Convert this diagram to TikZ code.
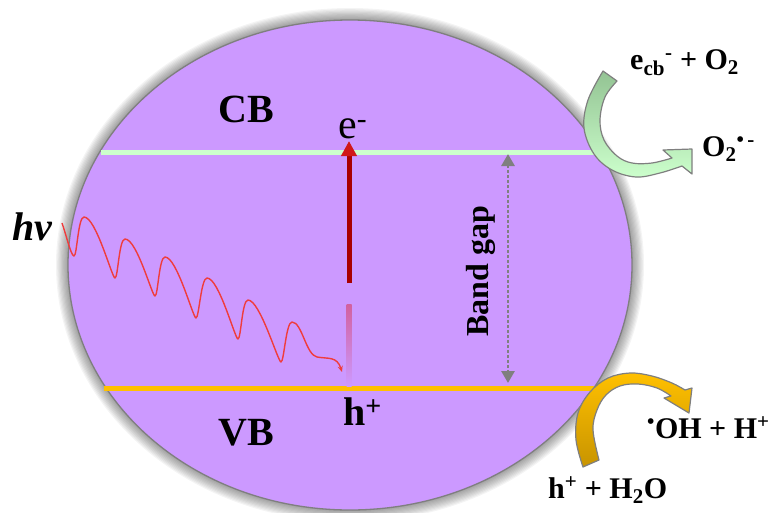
\documentclass[tikz,border=0pt]{standalone}
\usepackage{fontspec}
\setmainfont{Liberation Serif}
\usetikzlibrary{arrows.meta}
\definecolor{bandpurple}{HTML}{CC99FF}
\definecolor{cbgreen}{HTML}{CCFFCC}
\definecolor{vbgold}{HTML}{FFC000}
\definecolor{edgegray}{HTML}{7F7F7F}
\definecolor{darkred}{HTML}{A80000}
\definecolor{headred}{HTML}{D01818}
\definecolor{fadepink}{HTML}{D2609E}
\definecolor{wavered}{HTML}{F03C3C}
\definecolor{arrgreenD}{HTML}{93C393}
\definecolor{arrgreenL}{HTML}{CCFFCC}
\definecolor{arrgoldD}{HTML}{C89400}
\definecolor{arrgoldL}{HTML}{FFC000}
\begin{document}
\begin{tikzpicture}[x=1pt,y=-1pt,
  biglabel/.style={font=\fontsize{40}{40}\selectfont\bfseries, inner sep=0pt, anchor=base west},
  sidelabel/.style={font=\fontsize{30}{30}\selectfont\bfseries, inner sep=0pt, anchor=base west},
  bandline/.style={line width=5pt},
  curvedarrow/.style={draw=edgegray, line width=1.2pt, line join=round}]
\useasboundingbox (0,0) rectangle (774,512);
% soft shadow
\foreach \i in {1,...,10}{
  \fill[black, opacity=0.045] (350,265) ellipse [x radius={282+1.2*\i}, y radius={245+1.2*\i}];
}
% particle
\draw[edgegray, line width=1.3pt, fill=bandpurple] (350,265) ellipse [x radius=282, y radius=245];
% bands
\draw[cbgreen, bandline] (101,152) -- (601,152);
\draw[vbgold, bandline] (104,388) -- (594,388);
% labels
\node[biglabel] (cb) at (218,122) {CB};
\node[biglabel] (vb) at (218,445) {VB};
\node[font=\fontsize{42}{42}\selectfont, inner sep=0pt, anchor=base west] (e) at (338,138) {e\textsuperscript{-}};
\node[biglabel] (h) at (343,425) {h\textsuperscript{+}};
\node[biglabel, font=\fontsize{40}{40}\selectfont\bfseries\itshape] (hv) at (12,240) {hv};
\node[rotate=90, font=\fontsize{32}{32}\selectfont\bfseries, inner sep=0pt] (bg) at (481,271) {Band gap};
% excitation arrow
\coordinate (eb) at (349,283);
\coordinate (et) at (349,141);
\draw[darkred, line width=5pt, -{Triangle[width=15pt,length=15pt,color=headred]}] (eb) -- (et);
\shade[top color=fadepink, bottom color=bandpurple] (346.5,304) rectangle (351.5,386);
% band gap arrow
\coordinate (bgt) at (508,154);
\coordinate (bgb) at (508,383);
\draw[edgegray, line width=2.8pt, dash pattern=on 2.8pt off 2.2pt,
  {Triangle[width=13pt,length=12pt]}-{Triangle[width=13pt,length=12pt]}] (bgt) -- (bgb);
% light wave
\coordinate (w0) at (62,223);
\coordinate (wend) at (342,372);
\draw[wavered, line width=1.4pt, line join=round, -{Stealth[length=6pt,width=5pt]}]
  (w0) .. controls (66,234) and (71,256) .. (74,256)
  .. controls (77,256) and (78,217) .. (84,217)
  .. controls (96,217) and (112,278) .. (115,278)
  .. controls (118,278) and (119,239) .. (125,239)
  .. controls (137,239) and (152,296) .. (155,296)
  .. controls (158,296) and (159,257) .. (165,257)
  .. controls (177,257) and (193,318) .. (196,318)
  .. controls (199,318) and (201,278) .. (207,278)
  .. controls (219,278) and (235,339) .. (238,339)
  .. controls (241,339) and (242,300) .. (248,300)
  .. controls (260,300) and (278,362) .. (281,362)
  .. controls (284,362) and (286,322) .. (292,322)
  .. controls (302,322) and (306,355) .. (317,357)
  .. controls (328,359) and (337,356) .. (wend);
% green curved arrow (CB)
\draw[curvedarrow, top color=arrgreenD, bottom color=arrgreenL]
  (603,71) -- plot[smooth, tension=0.6] coordinates {(603,71) (588,100) (584,128) (594,154) (612,170) (636,177) (660,173) (682,166)}
  -- (692,174) -- (692,149) -- (663,150) -- (672,158)
  -- plot[smooth, tension=0.6] coordinates {(672,158) (652,163) (632,163) (617,156) (604,140) (600,120) (605,97) (617,81)}
  -- cycle;
% gold curved arrow (VB)
\draw[curvedarrow, top color=arrgoldL, bottom color=arrgoldD]
  (583,467) -- plot[smooth, tension=0.6] coordinates {(583,467) (576,440) (578,413) (590,392) (608,378) (630,373) (652,376) (672,383) (685,390)}
  -- (692,388) -- (689,413) -- (664,398) -- (671,396)
  -- plot[smooth, tension=0.6] coordinates {(671,396) (657,388) (638,384) (620,386) (606,395) (597,410) (593,430) (599,460)}
  -- cycle;
% side labels
\node[sidelabel] (ecb) at (630,69) {e\textsubscript{cb}\textsuperscript{-} + O\textsubscript{2}};
\node[sidelabel] (o2) at (702,156) {O\textsubscript{2}\textsuperscript{\textbullet\,-}};
\node[sidelabel] (oh) at (647,438) {\textsuperscript{\textbullet}OH + H\textsuperscript{+}};
\node[sidelabel] (hh) at (548,498) {h\textsuperscript{+} + H\textsubscript{2}O};
\end{tikzpicture}
\end{document}
